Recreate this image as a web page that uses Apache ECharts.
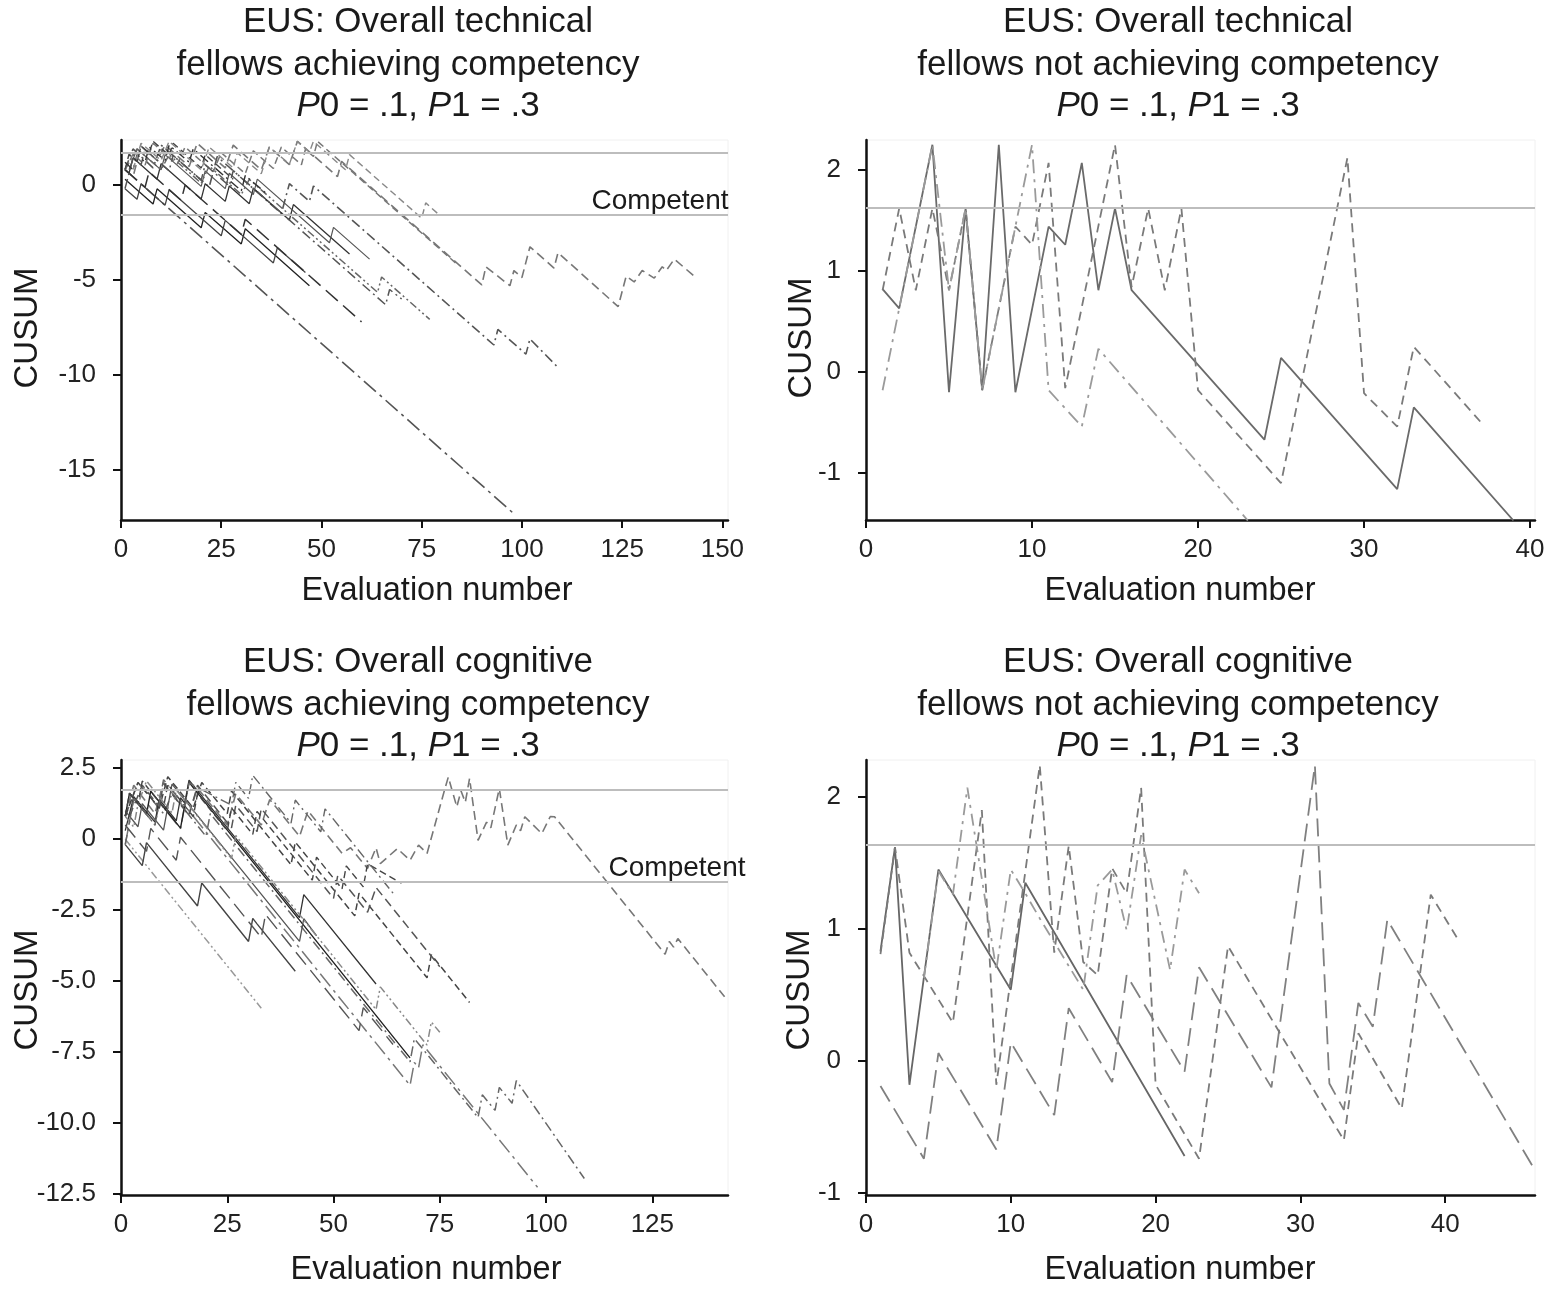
<!DOCTYPE html>
<html>
<head>
<meta charset="utf-8">
<script src="https://cdn.jsdelivr.net/npm/echarts@6/dist/echarts.min.js"></script>
<style>
html,body{margin:0;padding:0;background:#fff;}
#chart{width:1554px;height:1290px;}
</style>
</head>
<body>
<div id="chart"></div>
<script>
// ---------------- DATA ----------------
// Tick labels
const TL_XTICKS = [0, 25, 50, 75, 100, 125, 150];
const TL_YTICKS = [-15, -10, -5, 0];
const TR_XTICKS = [0, 10, 20, 30, 40];
const TR_YTICKS = [-1, 0, 1, 2];
const BL_XTICKS = [0, 25, 50, 75, 100, 125];
const BL_YTICKS = [-12.5, -10, -7.5, -5, -2.5, 0, 2.5];
const BR_XTICKS = [0, 10, 20, 30, 40];
const BR_YTICKS = [-1, 0, 1, 2];

// Decision limits (h0 / h1)
const TL_LIMITS = [1.68, -1.58];
const TR_LIMITS = [1.63, -1.58];
const BL_LIMITS = [1.73, -1.51];
const BR_LIMITS = [1.64, -1.55];

// Top-left: technical, fellows achieving competency  [evaluation, CUSUM]
const TL_A = [[1,0.81],[2,0.62],[98,-17.3]];
const TL_B = [[1,0.81],[3,1.9],[8,0.9],[10,2.1],[22,-0.1],[24,1.5],[40,-1.5],[42,0.07],[47,-0.86],[48,-0.05],[93,-8.42],[94,-7.6],[101,-8.9],[102,-8.1],[109,-9.6]];
const TL_C = [[1,0.81],[3,0.43],[5,2.05],[9,1.3],[11,2.1],[17,0.98],[19,2.2],[26,0.9],[28,2.1],[35,0.8],[37,2.0],[42,1.07],[44,2.3],[54,0.44],[55,1.25],[90,-5.26],[91,-4.3],[97,-5.3],[98,-4.5],[100,-4.87],[101,-4.06],[102,-3.25],[108,-4.37],[109,-3.56],[124,-6.4],[126,-4.8],[128,-5.1],[130,-4.5],[133,-4.9],[135,-4.3],[136,-4.5],[138,-3.9],[143,-4.8]];
const TL_S1 = [[1,0.81],[2,0.62],[3,1.43],[9,0.31],[10,1.12],[20,-0.74],[21,0.07],[26,-0.86],[27,-0.05],[32,-0.98],[33,-0.17],[42,-1.84],[43,-1.03],[57,-3.63]];
const TL_S2 = [[1,0.3],[8,-1.0],[9,-0.2],[20,-2.25],[21,-1.44],[30,-3.1],[31,-2.3],[47,-5.3]];
const TL_S3 = [[1,-0.19],[4,-0.75],[5,0.06],[11,-1.06],[12,-0.25],[25,-2.67],[26,-1.86],[38,-4.1],[39,-3.3],[46,-4.6]];
const TL_S4 = [[2,0.81],[4,1.9],[10,0.8],[11,1.6],[20,-0.07],[21,0.74],[26,-0.19],[27,0.62],[33,-0.5],[34,0.31],[52,-3.04],[53,-2.23],[62,-3.9]];
const TL_D1 = [[1,0.81],[6,-0.12],[7,0.69],[15,-0.8],[16,0.0],[30,-2.6],[31,-1.8],[60,-7.2]];
const TL_D2 = [[1,0.81],[4,1.9],[10,0.8],[12,1.6],[20,0.1],[22,1.0],[30,-0.5],[32,0.3],[64,-5.65],[65,-4.84],[77,-7.07]];
const TL_D3 = [[1,0.81],[3,1.62],[6,1.06],[8,2.2],[14,1.1],[16,2.0],[23,0.7],[25,1.7],[31,0.6],[33,1.8],[38,0.87],[40,2.0],[45,1.07],[46,1.88],[48,1.5],[49,2.3],[58,0.63],[84,-4.2]];
const TL_D4 = [[1,-0.19],[3,1.43],[5,1.06],[6,1.87],[12,0.75],[13,1.56],[20,0.26],[21,1.07],[27,-0.05],[28,0.76],[66,-6.3],[67,-5.5],[70,-6.0]];
const TL_E1 = [[1,0.81],[2,1.62],[4,1.24],[5,2.05],[7,1.68],[8,2.3],[12,1.56],[13,2.2],[20,0.9],[21,1.6],[28,0.3]];
const TL_E2 = [[1,1.2],[3,0.8],[4,1.6],[6,1.2],[7,2.0],[11,1.3],[12,2.1],[17,1.2],[18,1.9],[30,-0.3],[31,0.5],[36,-0.4]];
const TL_E3 = [[3,0.81],[5,2.2],[10,1.3],[12,2.3],[20,0.8],[22,2.0],[28,0.9],[29,1.7],[35,0.6],[37,2.0],[42,1.1],[44,2.3],[47,1.74],[48,2.3],[56,0.8],[57,1.6],[75,-1.75],[76,-0.94],[79,-1.5]];

// Top-right: technical, fellows not achieving competency
const TR_SOLID = [[1,0.82],[2,0.63],[4,2.25],[5,-0.2],[6,1.62],[7,-0.18],[8,2.25],[9,-0.2],[11,1.44],[12,1.26],[13,2.07],[14,0.81],[15,1.62],[16,0.81],[24,-0.67],[25,0.14],[32,-1.16],[33,-0.35],[39,-1.47]];
const TR_DASH = [[1,0.81],[2,1.62],[3,0.81],[4,1.62],[5,0.81],[6,1.62],[7,-0.18],[9,1.44],[10,1.26],[11,2.07],[12,-0.16],[15,2.25],[16,0.84],[17,1.62],[18,0.81],[19,1.62],[20,-0.18],[25,-1.1],[29,2.12],[30,-0.21],[32,-0.54],[33,0.25],[37,-0.49]];
const TR_DASHDOT = [[1,-0.18],[4,2.25],[5,0.81],[6,1.62],[7,-0.18],[10,2.25],[11,-0.18],[13,-0.54],[14,0.23],[23,-1.47]];

// Bottom-left: cognitive, fellows achieving competency
const BL_L = [[1,0.81],[3,1.9],[8,0.9],[10,2.0],[16,0.9],[18,1.8],[25,0.5],[27,1.6],[33,0.5],[35,1.4],[42,0.1],[44,1.0],[52,-0.5],[54,-0.3],[58,-1.03],[60,-0.3],[61,-0.86],[65,-0.33],[68,-0.74],[70,-0.21],[72,-0.5],[76,1.67],[77,2.19],[79,1.14],[80,1.7],[81,1.3],[82,2.14],[84,-0.04],[86,0.6],[87,0.4],[89,1.79],[91,-0.21],[93,0.5],[94,0.3],[95,0.79],[99,0.2],[101,0.8],[102,0.79],[128,-4.05],[129,-3.6],[130,-3.8],[131,-3.5],[142,-5.55]];
const BL_1 = [[1,0.0],[33,-5.95]];
const BL_S1 = [[1,-0.19],[5,-0.93],[6,-0.12],[18,-2.35],[19,-1.54],[30,-3.6],[31,-2.79],[32,-2.98],[41,-4.65]];
const BL_A = [[1,0.81],[4,2.0],[10,0.9],[12,1.6],[20,0.1],[21,0.9],[68,-7.84],[69,-7.03],[70,-7.2],[84,-9.8],[85,-9.0],[88,-9.55],[89,-8.74],[92,-9.3],[93,-8.5],[109,-11.95]];
const BL_B = [[1,-0.19],[3,1.43],[8,0.5],[9,1.3],[14,0.37],[15,1.18],[23,-0.3],[68,-8.67],[69,-7.86],[70,-8.05],[71,-7.24],[98,-12.26]];
const BL_D1 = [[1,0.81],[4,2.0],[9,1.1],[11,2.2],[17,1.1],[19,2.0],[25,0.9],[26,1.7],[40,-0.9],[41,-0.1],[55,-2.7],[56,-1.9],[72,-4.88],[73,-4.07],[82,-5.75]];
const BL_S2 = [[1,0.81],[2,1.62],[6,0.88],[7,1.69],[14,0.39],[15,1.2],[16,2.0],[68,-7.7]];
const BL_S3 = [[1,0.3],[3,1.5],[8,0.6],[9,1.4],[13,0.65],[14,1.46],[15,1.27],[16,2.08],[42,-2.76],[43,-1.95],[60,-5.1]];
const BL_S4 = [[1,1.0],[4,0.44],[5,1.25],[10,0.32],[11,1.13],[12,1.94],[42,-3.6],[43,-2.8],[46,-3.4]];
const BL_D2 = [[2,0.81],[5,1.9],[9,1.15],[10,1.96],[16,0.84],[18,1.9],[26,0.4],[27,1.2],[32,0.27],[33,1.08],[50,-2.08],[51,-1.27],[58,-2.57],[60,-1.7],[75,-4.49]];
const BL_D3 = [[1,0.81],[3,0.43],[4,1.24],[6,2.05],[12,0.93],[13,1.74],[26,-0.68],[27,0.13],[60,-6.0],[61,-5.2],[72,-7.25],[73,-6.44],[75,-6.8]];
const BL_E1 = [[1,0.81],[2,1.62],[4,1.24],[5,2.05],[10,1.12],[11,1.93],[17,0.8],[18,1.6],[25,0.3],[26,1.1],[31,0.17],[32,0.98],[45,-1.44],[46,-0.63],[52,-1.75],[53,-0.94],[57,-1.68],[58,-0.87],[66,-1.55]];
const BL_E2 = [[1,-0.19],[2,0.62],[3,1.43],[8,0.5],[10,2.1],[15,1.17],[16,1.98],[26,1.2],[27,2.0],[30,1.44],[31,2.25],[40,0.57],[41,1.38],[47,0.26],[48,1.07],[64,-1.9]];
const BL_E3 = [[1,0.5],[6,-0.43],[7,0.38],[13,-0.74],[14,0.07],[33,-3.46],[34,-2.65],[56,-6.74],[57,-5.93],[64,-7.23]];

// Bottom-right: cognitive, fellows not achieving competency
const BR_SOLID = [[1,0.83],[2,1.62],[3,-0.18],[5,1.45],[10,0.54],[11,1.35],[22,-0.72]];
const BR_LONG = [[1,-0.19],[4,-0.74],[5,0.06],[9,-0.67],[10,0.14],[13,-0.41],[14,0.4],[17,-0.16],[18,0.65],[22,-0.08],[23,0.71],[28,-0.2],[31,2.24],[32,-0.17],[33,-0.37],[34,0.44],[35,0.26],[36,1.07],[46,-0.79]];
const BR_DASH = [[1,0.81],[2,1.62],[3,0.82],[6,0.29],[8,1.9],[9,-0.18],[12,2.24],[13,0.82],[14,1.63],[15,0.75],[16,0.65],[17,1.46],[18,1.27],[19,2.07],[20,-0.18],[23,-0.74],[25,0.87],[33,-0.6],[34,0.21],[37,-0.36],[39,1.26],[41,0.9]];
const BR_DASHDOT = [[4,0.63],[5,1.44],[6,1.26],[7,2.07],[9,0.69],[10,1.45],[11,1.27],[12,1.08],[13,0.9],[15,0.54],[16,1.33],[17,1.45],[18,0.99],[19,1.71],[21,0.69],[22,1.45],[23,1.27]];

// Texts
const TITLES = [
  ['EUS: Overall technical', 'fellows achieving competency'],
  ['EUS: Overall technical', 'fellows not achieving competency'],
  ['EUS: Overall cognitive', 'fellows achieving competency'],
  ['EUS: Overall cognitive', 'fellows not achieving competency']
];
const PARAM_TEXT = '{i|P}0 = .1, {i|P}1 = .3';
const X_NAME = 'Evaluation number';
const Y_NAME = 'CUSUM';
const LIMIT_LABEL = 'Competent';

// ---------------- STYLE / LAYOUT ----------------
const FONT = "'Liberation Sans', Arial, Helvetica, sans-serif";
const GRIDS = [
  {left:121, top:140, width:607, height:380},
  {left:866, top:140, width:669, height:380},
  {left:121, top:760, width:607, height:435},
  {left:866, top:760, width:669, height:435}
];
const XR = [[0,151.4],[0,40.3],[0,142.8],[0,46.2]];
const YR = [[-17.63,2.37],[-1.465,2.297],[-12.53,2.79],[-1.015,2.28]];
const XT = [TL_XTICKS, TR_XTICKS, BL_XTICKS, BR_XTICKS];
const YT = [TL_YTICKS, TR_YTICKS, BL_YTICKS, BR_YTICKS];
const LIM = [TL_LIMITS, TR_LIMITS, BL_LIMITS, BR_LIMITS];

const ST = {
  solid: 'solid',
  dash: [7,4],
  dash2: [9,5],
  longdash: [16,7],
  dashdot: [10,4,2,4],
  longdashdot: [16,5,3,5],
  dashdotdot: [8,3,2,3,2,3]
};

const chart = echarts.init(document.getElementById('chart'), null, {renderer:'canvas'});

const xAxes = GRIDS.map((g,i)=>({
  type:'value', gridIndex:i, min:XR[i][0], max:XR[i][1],
  axisLine:{show:true, onZero:false, lineStyle:{color:'#111', width:2.5}},
  axisTick:{show:true, length:8, inside:false, lineStyle:{color:'#111', width:2}, customValues:XT[i]},
  axisLabel:{show:true, customValues:XT[i], margin:17, fontSize:26, fontFamily:FONT, color:'#222'},
  splitLine:{show:false}
}));
const yAxes = GRIDS.map((g,i)=>({
  type:'value', gridIndex:i, min:YR[i][0], max:YR[i][1],
  axisLine:{show:true, onZero:false, lineStyle:{color:'#111', width:2.5}},
  axisTick:{show:true, length:8, inside:false, lineStyle:{color:'#111', width:2}, customValues:YT[i]},
  axisLabel:{show:true, customValues:YT[i], margin:25, fontSize:26, fontFamily:FONT, color:'#222',
    formatter: (v)=> i===2 ? (v===0 ? '0' : v.toFixed(1)) : String(v)},
  splitLine:{show:false}
}));

const series = [];
// threshold lines, one carrier series per panel
LIM.forEach((lims,i)=>{
  series.push({
    type:'line', xAxisIndex:i, yAxisIndex:i, data:[], silent:true, z:1,
    markLine:{silent:true, symbol:['none','none'], label:{show:false},
      lineStyle:{color:'#bdbdbd', width:2, type:'solid'},
      data: lims.map(v=>({yAxis:v}))}
  });
});
function add(data, i, color, type, width){
  series.push({type:'line', xAxisIndex:i, yAxisIndex:i, data:data, showSymbol:false, symbol:'none',
    silent:true, z:3, lineStyle:{color:color, width:width||1.6, type:type}});
}
// Top-left
add(TL_A, 0, '#555', ST.longdashdot, 1.6);
add(TL_B, 0, '#555', ST.dashdot, 1.6);
add(TL_C, 0, '#777', ST.dash2, 1.6);
add(TL_S1, 0, '#333', ST.solid, 1.3);
add(TL_S2, 0, '#222', ST.solid, 1.3);
add(TL_S3, 0, '#444', ST.solid, 1.3);
add(TL_S4, 0, '#555', ST.solid, 1.2);
add(TL_D1, 0, '#333', ST.longdash, 1.5);
add(TL_D2, 0, '#666', ST.dashdotdot, 1.5);
add(TL_D3, 0, '#777', ST.dash, 1.5);
add(TL_D4, 0, '#555', ST.dashdot, 1.5);
add(TL_E1, 0, '#444', ST.dash, 1.4);
add(TL_E2, 0, '#333', ST.dashdot, 1.4);
add(TL_E3, 0, '#888', ST.dash, 1.4);
// Top-right
add(TR_SOLID, 1, '#6a6a6a', ST.solid, 1.8);
add(TR_DASH, 1, '#7a7a7a', [9,6], 1.8);
add(TR_DASHDOT, 1, '#9a9a9a', [14,6,3,6], 1.8);
// Bottom-left
add(BL_L, 2, '#777', ST.dash2, 1.6);
add(BL_1, 2, '#999', ST.dashdotdot, 1.5);
add(BL_S1, 2, '#444', ST.solid, 1.4);
add(BL_A, 2, '#666', ST.dashdot, 1.5);
add(BL_B, 2, '#777', ST.longdashdot, 1.5);
add(BL_D1, 2, '#444', ST.dash, 1.5);
add(BL_S2, 2, '#222', ST.solid, 1.4);
add(BL_S3, 2, '#333', ST.solid, 1.3);
add(BL_S4, 2, '#555', ST.solid, 1.3);
add(BL_D2, 2, '#555', ST.dash2, 1.5);
add(BL_D3, 2, '#888', ST.dashdotdot, 1.5);
add(BL_E1, 2, '#444', ST.dash, 1.4);
add(BL_E2, 2, '#666', ST.dashdot, 1.4);
add(BL_E3, 2, '#555', ST.longdash, 1.4);
// Bottom-right
add(BR_SOLID, 3, '#666', ST.solid, 1.8);
add(BR_LONG, 3, '#808080', [18,8], 1.8);
add(BR_DASH, 3, '#7a7a7a', [9,6], 1.8);
add(BR_DASHDOT, 3, '#9a9a9a', [12,6,3,6], 1.8);

// ---------------- TEXT (graphic) ----------------
function txt(text, x, y, size, extra){
  return Object.assign({type:'text', x:x, y:y, silent:true, style:{
    text:text, fontSize:size, fontFamily:FONT, fill:'#1a1a1a',
    align:'center', verticalAlign:'middle', textAlign:'center', textVerticalAlign:'middle',
    rich:{i:{fontStyle:'italic', fontSize:size, fontFamily:FONT, fill:'#1a1a1a'}}
  }}, extra||{});
}
const TITLE_POS = [
  {cx:[418,408,418], ys:[22,65,106]},
  {cx:[1178,1178,1178], ys:[22,65,106]},
  {cx:[418,418,418], ys:[662,705,746]},
  {cx:[1178,1178,1178], ys:[662,705,746]}
];
const graphics = [];
TITLES.forEach((t,i)=>{
  const p = TITLE_POS[i];
  graphics.push(txt(t[0], p.cx[0], p.ys[0], 35));
  graphics.push(txt(t[1], p.cx[1], p.ys[1], 35));
  graphics.push(txt(PARAM_TEXT, p.cx[2], p.ys[2], 35));
});
[[437,591],[1180,591],[426,1270],[1180,1270]].forEach(p=>graphics.push(txt(X_NAME, p[0], p[1], 32.5)));
[[28,328],[802,338],[28,990],[800,990]].forEach(p=>graphics.push(txt(Y_NAME, p[0], p[1], 33, {rotation:Math.PI/2})));
graphics.push(txt(LIMIT_LABEL, 660, 201, 28));
graphics.push(txt(LIMIT_LABEL, 677, 868, 28));

chart.setOption({
  animation:false,
  backgroundColor:'#fff',
  grid: GRIDS.map(g=>Object.assign({show:true, borderColor:'#f0f0f0', borderWidth:1, containLabel:false}, g)),
  xAxis: xAxes,
  yAxis: yAxes,
  series: series,
  graphic: {elements: graphics}
});
</script>
</body>
</html>
